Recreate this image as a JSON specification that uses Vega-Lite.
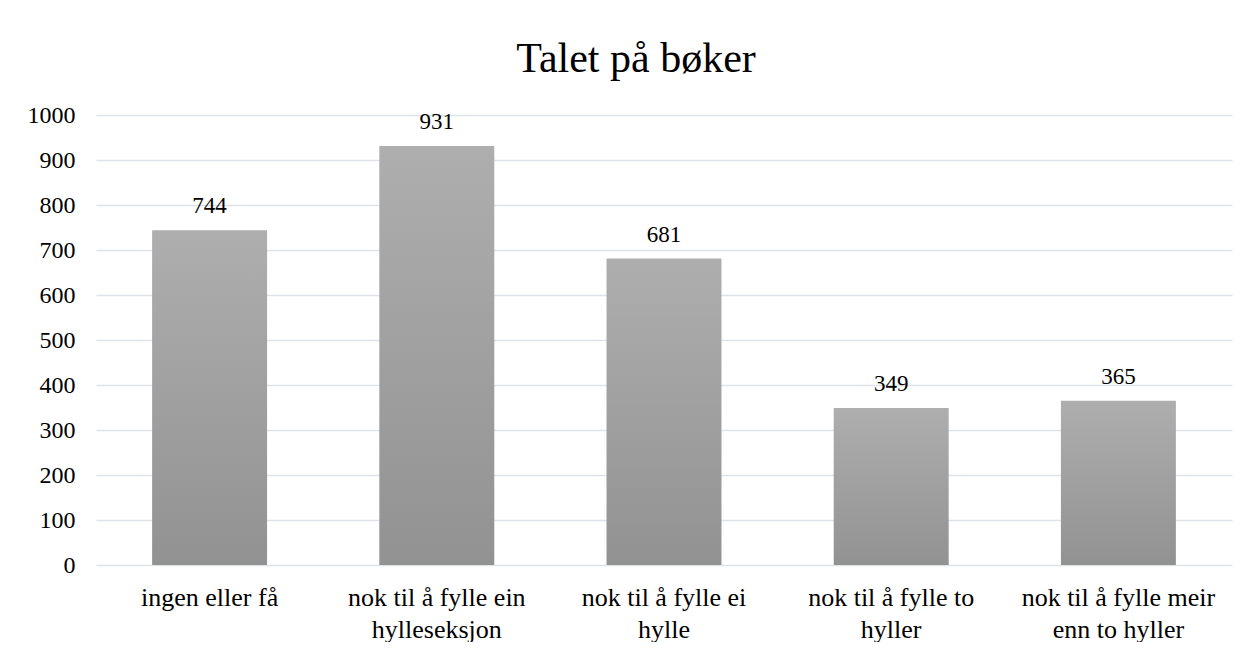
{
  "$schema": "https://vega.github.io/schema/vega-lite/v6.json",
  "width": 1136,
  "height": 450,
  "padding": {"left": 27, "top": 38, "right": 17, "bottom": 0},
  "background": "white",
  "title": {
    "text": "Talet på bøker",
    "font": "Liberation Serif",
    "fontSize": 42,
    "fontWeight": "normal",
    "color": "#000000",
    "anchor": "middle",
    "frame": "group",
    "dx": -28,
    "baseline": "alphabetic",
    "offset": -11
  },
  "data": {
    "values": [
      {"kategori": "ingen eller få", "antal": 744},
      {"kategori": "nok til å fylle ein hylleseksjon", "antal": 931},
      {"kategori": "nok til å fylle ei hylle", "antal": 681},
      {"kategori": "nok til å fylle to hyller", "antal": 349},
      {"kategori": "nok til å fylle meir enn to hyller", "antal": 365}
    ]
  },
  "encoding": {
    "x": {
      "field": "kategori",
      "type": "nominal",
      "sort": null,
      "scale": {"paddingInner": 0.494, "paddingOuter": 0.247},
      "axis": {
        "title": null,
        "labelAngle": 0,
        "domain": false,
        "ticks": false,
        "labelFont": "Liberation Serif",
        "labelFontSize": 26,
        "labelColor": "#000000",
        "labelPadding": 19,
        "labelLineHeight": 32,
        "labelLimit": 400,
        "labelExpr": "datum.label == 'nok til å fylle ein hylleseksjon' ? ['nok til å fylle ein', 'hylleseksjon'] : datum.label == 'nok til å fylle ei hylle' ? ['nok til å fylle ei', 'hylle'] : datum.label == 'nok til å fylle to hyller' ? ['nok til å fylle to', 'hyller'] : datum.label == 'nok til å fylle meir enn to hyller' ? ['nok til å fylle meir', 'enn to hyller'] : datum.label"
      }
    },
    "y": {
      "field": "antal",
      "type": "quantitative",
      "scale": {"domain": [0, 1000], "nice": false},
      "axis": {
        "title": null,
        "values": [0, 100, 200, 300, 400, 500, 600, 700, 800, 900, 1000],
        "format": "d",
        "domain": false,
        "ticks": false,
        "grid": true,
        "gridColor": "#dfe2e6",
        "gridWidth": 1.5,
        "labelFont": "Liberation Serif",
        "labelFontSize": 24,
        "labelColor": "#000000",
        "labelPadding": 21
      }
    }
  },
  "layer": [
    {
      "mark": {
        "type": "bar",
        "color": {
          "gradient": "linear",
          "x1": 0, "y1": 0, "x2": 0, "y2": 1,
          "stops": [
            {"offset": 0, "color": "#aeaeae"},
            {"offset": 1, "color": "#929292"}
          ]
        }
      }
    },
    {
      "mark": {
        "type": "text",
        "font": "Liberation Serif",
        "fontSize": 23,
        "color": "#000000",
        "baseline": "alphabetic",
        "dy": -17
      },
      "encoding": {
        "text": {"field": "antal", "type": "quantitative"}
      }
    }
  ],
  "config": {
    "view": {"stroke": null}
  }
}
